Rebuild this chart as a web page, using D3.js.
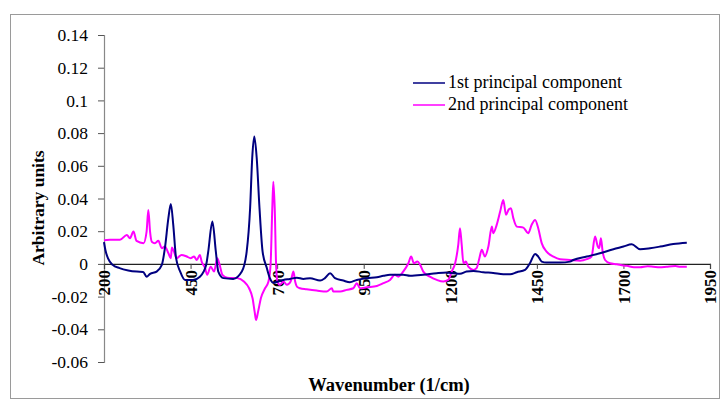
<!DOCTYPE html>
<html>
<head>
<meta charset="utf-8">
<script src="https://cdn.jsdelivr.net/npm/d3@7"></script>
<style>
  html, body { margin: 0; padding: 0; background: #fff; }
  svg text { font-family: "Liberation Serif", "Times New Roman", serif; fill: #000; }
</style>
</head>
<body>
<svg id="chart" width="724" height="401"></svg>
<script>
// Principal component loadings across the spectrum
const xTicks = [200, 450, 700, 950, 1200, 1450, 1700, 1950];
const yTicks = [-0.06, -0.04, -0.02, 0, 0.02, 0.04, 0.06, 0.08, 0.1, 0.12, 0.14];
const seriesNames = ["1st principal component", "2nd principal component"];

const pc1Wavenumber = [200, 204, 212, 225, 245, 270, 295, 313, 323, 333, 352, 367, 376, 386, 393, 400, 408, 420, 434, 457, 477, 495, 501, 513, 523, 530, 545, 573, 598, 612, 622, 628, 634, 641, 649, 658, 670, 679, 689, 703, 718, 737, 757, 776, 795, 824, 838, 853, 867, 891, 910, 930, 959, 988, 1007, 1026, 1064, 1084, 1122, 1161, 1190, 1209, 1228, 1247, 1267, 1295, 1324, 1353, 1373, 1392, 1416, 1430, 1445, 1454, 1464, 1478, 1517, 1546, 1555, 1594, 1632, 1671, 1700, 1724, 1748, 1777, 1806, 1844, 1883];
const pc1Value = [0.0133, 0.0085, 0.0032, -0.0006, -0.0026, -0.0040, -0.0047, -0.0049, -0.0078, -0.0061, -0.0047, -0.0006, 0.0098, 0.0281, 0.0367, 0.0239, 0.0037, -0.0047, -0.0098, -0.0098, -0.0078, -0.0006, 0.0075, 0.0259, 0.0075, -0.0047, -0.0087, -0.0092, -0.0047, 0.0075, 0.0343, 0.0648, 0.0779, 0.0648, 0.0343, 0.0075, -0.0024, -0.0087, -0.0116, -0.0108, -0.0098, -0.0092, -0.0084, -0.0092, -0.0087, -0.0102, -0.0087, -0.0057, -0.0087, -0.0102, -0.0112, -0.0098, -0.0087, -0.0081, -0.0073, -0.0067, -0.0067, -0.0073, -0.0067, -0.0057, -0.0053, -0.0057, -0.0061, -0.0047, -0.0043, -0.0051, -0.0055, -0.0063, -0.0063, -0.0051, -0.0037, 0.0004, 0.0061, 0.0045, 0.0014, 0.0008, 0.0008, 0.0014, 0.0024, 0.0045, 0.0065, 0.009, 0.0106, 0.012, 0.009, 0.0096, 0.0106, 0.0122, 0.013];

const pc2Wavenumber = [200, 217, 246, 266, 275, 285, 294, 314, 323, 328, 333, 338, 347, 357, 367, 376, 386, 393, 396, 402, 410, 424, 439, 450, 460, 468, 477, 482, 492, 498, 508, 518, 527, 534, 542, 556, 585, 604, 619, 629, 635, 639, 645, 653, 665, 675, 681, 686, 689, 693, 697, 701, 708, 718, 728, 739, 747, 752, 757, 766, 785, 814, 843, 858, 862, 882, 901, 920, 930, 939, 959, 988, 1007, 1026, 1040, 1050, 1064, 1079, 1087, 1095, 1105, 1113, 1122, 1141, 1161, 1180, 1194, 1204, 1214, 1223, 1228, 1233, 1238, 1245, 1252, 1267, 1276, 1284, 1291, 1300, 1310, 1320, 1324, 1334, 1344, 1353, 1361, 1368, 1375, 1382, 1392, 1411, 1425, 1435, 1445, 1454, 1464, 1478, 1498, 1517, 1546, 1575, 1594, 1608, 1618, 1626, 1630, 1635, 1640, 1647, 1661, 1681, 1700, 1710, 1730, 1748, 1770, 1786, 1805, 1825, 1850, 1865, 1883];
const pc2Value = [0.0145, 0.0147, 0.0147, 0.0177, 0.0157, 0.0198, 0.0141, 0.0127, 0.0198, 0.033, 0.0198, 0.0136, 0.0127, 0.0141, 0.0096, 0.0106, 0.0065, 0.0035, 0.01, 0.0075, 0.0035, 0.0055, 0.0045, 0.0035, 0.0045, 0.0024, 0.0055, 0.0014, -0.0026, -0.0067, -0.0017, -0.0047, 0.0035, -0.0006, -0.0067, -0.0084, -0.0087, -0.0108, -0.0149, -0.021, -0.0292, -0.0343, -0.0292, -0.021, -0.0149, -0.0108, -0.0006, 0.0341, 0.0503, 0.0341, -0.0006, -0.0108, -0.0128, -0.0108, -0.0128, -0.0108, -0.0047, -0.0108, -0.0139, -0.0149, -0.0155, -0.0163, -0.0169, -0.0149, -0.0169, -0.0169, -0.0159, -0.0149, -0.0118, -0.0149, -0.0143, -0.0135, -0.0118, -0.0098, -0.0067, -0.0078, -0.0047, 0.0004, 0.0045, 0.0004, 0.0014, -0.0006, -0.0047, -0.0078, -0.0098, -0.0108, -0.0098, -0.0047, 0.0004, 0.0116, 0.0218, 0.0116, 0.0004, 0.0014, -0.0017, -0.0037, -0.0026, 0.0035, 0.0086, 0.0045, 0.0106, 0.0228, 0.0188, 0.0239, 0.032, 0.0391, 0.03, 0.033, 0.0341, 0.028, 0.0228, 0.0222, 0.0188, 0.0239, 0.0269, 0.0218, 0.0127, 0.0075, 0.0045, 0.0029, 0.0024, 0.002, 0.0029, 0.0045, 0.0167, 0.0106, 0.0096, 0.0157, 0.0075, 0.0024, 0.0004, -0.0002, -0.0010, -0.0012, -0.0020, -0.0020, -0.0014, -0.0017, -0.0021, -0.0017, -0.0013, -0.0018, -0.0017];

const svg = d3.select("#chart");

// outer chart frame
svg.append("rect")
  .attr("x", 10.5).attr("y", 14.5)
  .attr("width", 709).attr("height", 384)
  .attr("fill", "none").attr("stroke", "#9a9a9a").attr("stroke-width", 1);

const x = d3.scaleLinear().domain([200, 1950]).range([104, 710]);
const y = d3.scaleLinear().domain([-0.06, 0.14]).range([362, 35]);

// y axis
const yAxis = svg.append("g").attr("transform", "translate(104,0)")
  .call(d3.axisLeft(y).tickValues(yTicks).tickSize(6).tickPadding(10)
    .tickFormat(d => d === 0 ? "0" : String(+d.toFixed(2))));
yAxis.select(".domain").attr("stroke", "#888").attr("stroke-width", 1.2);
yAxis.selectAll(".tick line").attr("stroke", "#555");
yAxis.selectAll(".tick text")
  .style("font-family", "'Liberation Serif', serif")
  .style("font-size", "17.5px").attr("fill", "#222");

// x axis at zero line, labels rotated
const xAxis = svg.append("g").attr("transform", `translate(0,${y(0)})`)
  .call(d3.axisBottom(x).tickValues(xTicks).tickSize(5).tickFormat(d3.format("d")));
xAxis.select(".domain").attr("stroke", "#222").attr("stroke-width", 1.2);
xAxis.selectAll(".tick line").attr("stroke", "#444");
xAxis.selectAll(".tick text")
  .attr("transform", "rotate(-90)")
  .attr("x", -6).attr("y", 0).attr("dy", "0.35em")
  .attr("text-anchor", "end")
  .style("font-family", "'Liberation Serif', serif")
  .style("font-size", "17px").style("font-weight", "bold");

// series lines
const line = d3.line()
  .x(d => x(d[0])).y(d => y(d[1]))
  .curve(d3.curveMonotoneX);

const pc1 = pc1Wavenumber.map((w, i) => [w, pc1Value[i]]);
const pc2 = pc2Wavenumber.map((w, i) => [w, pc2Value[i]]);

svg.append("path").datum(pc2)
  .attr("d", line).attr("fill", "none")
  .attr("stroke", "#ff00ff").attr("stroke-width", 2);
svg.append("path").datum(pc1)
  .attr("d", line).attr("fill", "none")
  .attr("stroke", "#000080").attr("stroke-width", 2);

// axis titles
svg.append("text")
  .attr("x", 389).attr("y", 391)
  .attr("text-anchor", "middle")
  .style("font-size", "18.5px").style("font-weight", "bold")
  .text("Wavenumber (1/cm)");

svg.append("text")
  .attr("transform", "translate(44,208) rotate(-90)")
  .attr("text-anchor", "middle")
  .style("font-size", "17.5px").style("font-weight", "bold")
  .text("Arbitrary units");

// legend
const legendColors = ["#000080", "#ff00ff"];
const legend = svg.append("g");
seriesNames.forEach((name, i) => {
  const ly = 83 + i * 22;
  legend.append("line")
    .attr("x1", 413).attr("x2", 445).attr("y1", ly).attr("y2", ly)
    .attr("stroke", legendColors[i]).attr("stroke-width", 1.5);
  legend.append("text")
    .attr("x", 448).attr("y", ly + 5)
    .style("font-size", "18px")
    .text(name);
});
</script>
</body>
</html>
